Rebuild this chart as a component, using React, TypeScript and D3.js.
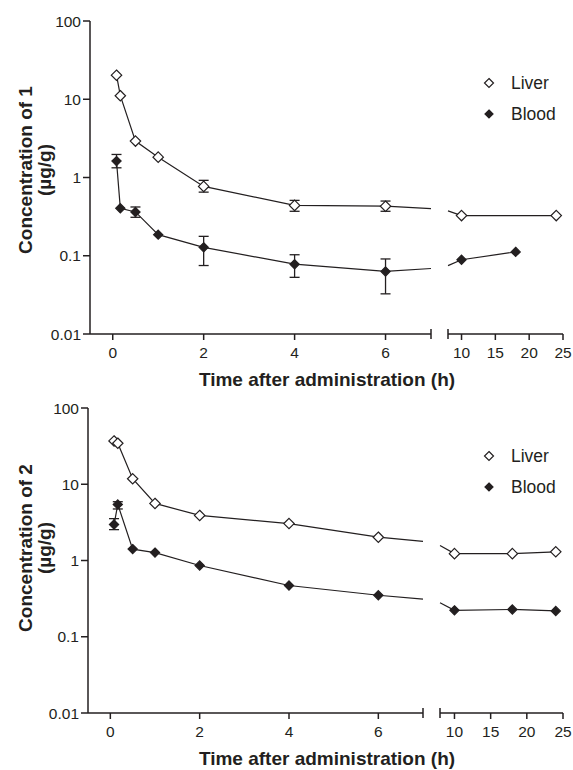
import React from 'react';
import * as d3 from 'd3';

// ==== data

const times = [0.083, 0.167, 0.5, 1, 2, 4, 6, 10, 18, 24];

const liver1 = [20.3, 11.1, 2.92, 1.82, 0.77, 0.44, 0.43, 0.326, null, 0.326];
const liver1Err = [null, null, null, null, [0.65, 0.92], [0.37, 0.51], [0.37, 0.5], null, null, null];
const blood1 = [1.62, 0.404, 0.363, 0.186, 0.128, 0.078, 0.063, 0.089, 0.112, null];
const blood1Err = [[1.33, 1.97], null, [0.31, 0.42], null, [0.075, 0.177], [0.053, 0.103], [0.0326, 0.091], null, null, null];

const liver2 = [37, 34.5, 11.8, 5.6, 3.9, 3.05, 2.02, 1.23, 1.23, 1.3];
const liver2Err = [null, null, null, null, null, null, null, null, null, null];
const blood2 = [2.96, 5.44, 1.41, 1.27, 0.86, 0.47, 0.35, 0.222, 0.228, 0.218];
const blood2Err = [[2.54, 3.54], [4.74, 5.9], null, null, null, null, null, null, null, null];

const yTicks = [100, 10, 1, 0.1, 0.01];
const xTicksLeft = [0, 2, 4, 6];
const xTicksRight = [10, 15, 20, 25];
const xBreak = [7, 8];
const xDomain = [-0.5, 25];

const ink = '#231f20';
const font = 'Liberation Sans, Arial, Helvetica, sans-serif';

// ====

type Pt = { t: number; v: number; gap?: boolean };

function seriesPoints(values: (number | null)[]): Pt[] {
    const pts: Pt[] = [];
    times.forEach((t, i) => {
        if (values[i] != null) pts.push({ t, v: values[i] as number });
    });
    // split the line at the axis break, interpolating in log space
    const out: Pt[] = [];
    pts.forEach((p, i) => {
        const prev = pts[i - 1];
        if (prev && prev.t < xBreak[0] && p.t > xBreak[1]) {
            const lerp = (t: number) => {
                const f = (t - prev.t) / (p.t - prev.t);
                return Math.pow(10, Math.log10(prev.v) + f * (Math.log10(p.v) - Math.log10(prev.v)));
            };
            out.push({ t: xBreak[0], v: lerp(xBreak[0]) });
            out.push({ t: NaN, v: NaN, gap: true });
            out.push({ t: xBreak[1], v: lerp(xBreak[1]) });
        }
        out.push(p);
    });
    return out;
}

function diamondPath(r: number) {
    return `M0,${-r}L${r},0L0,${r}L${-r},0Z`;
}

type PanelProps = {
    top: number;
    bottom: number;
    left: number;
    breakLeft: number;
    breakRight: number;
    right: number;
    label: string;
    titleY: number;
    liver: (number | null)[];
    liverErr: (number[] | null)[];
    blood: (number | null)[];
    bloodErr: (number[] | null)[];
    legendY: number;
};

function Panel(props: PanelProps) {
    const { top, bottom, left, breakLeft, breakRight, right, label, legendY, titleY } = props;

    const x = d3.scaleLinear()
        .domain([xDomain[0], xBreak[0], xBreak[1], xDomain[1]])
        .range([left, breakLeft, breakRight, right]);
    const y = d3.scaleLog().domain([0.01, 100]).range([bottom, top]);

    const line = d3.line<Pt>()
        .defined((d) => !d.gap)
        .x((d) => x(d.t))
        .y((d) => y(d.v));

    const series = [
        { values: props.liver, err: props.liverErr, fill: '#fff', r: 5.2 },
        { values: props.blood, err: props.bloodErr, fill: ink, r: 4.6 }
    ];

    return (
        <g>
            {/* y axis */}
            <line x1={left} x2={left} y1={top} y2={bottom} stroke={ink} strokeWidth={1.5} />
            {yTicks.map((t) => (
                <g key={t} transform={`translate(${left},${y(t)})`}>
                    <line x1={-7} x2={0} stroke={ink} strokeWidth={1.5} />
                    <text x={-9} dy="0.36em" textAnchor="end" fontSize={15.5} fill={ink}>{t}</text>
                </g>
            ))}

            {/* x axis, two segments */}
            <line x1={left} x2={breakLeft} y1={bottom} y2={bottom} stroke={ink} strokeWidth={1.5} />
            <line x1={breakRight} x2={right} y1={bottom} y2={bottom} stroke={ink} strokeWidth={1.5} />
            {[xBreak[0], xBreak[1]].map((t) => (
                <line key={`b${t}`} x1={x(t)} x2={x(t)} y1={bottom - 5} y2={bottom + 5} stroke={ink} strokeWidth={1.5} />
            ))}
            {xTicksLeft.concat(xTicksRight).map((t) => (
                <g key={t} transform={`translate(${x(t)},${bottom})`}>
                    <line y1={0} y2={6} stroke={ink} strokeWidth={1.5} />
                    <text y={24} textAnchor="middle" fontSize={15.5} fill={ink}>{t}</text>
                </g>
            ))}

            <text x={327} y={bottom + 52} textAnchor="middle" fontSize={19} fontWeight="bold" fill={ink}>
                Time after administration (h)
            </text>
            <g transform={`translate(32,${titleY}) rotate(-90)`}>
                <text textAnchor="middle" fontSize={19} fontWeight="bold" fill={ink}>{`Concentration of ${label}`}</text>
                <text y={18.5} textAnchor="middle" fontSize={19} fontWeight="bold" fill={ink}>(µg/g)</text>
            </g>

            {/* series */}
            {series.map((s, si) => (
                <g key={si}>
                    <path d={line(seriesPoints(s.values)) || ''} fill="none" stroke={ink} strokeWidth={1.2} />
                    {times.map((t, i) => s.err[i] ? (
                        <g key={`e${i}`} stroke={ink} strokeWidth={1.3}>
                            <line x1={x(t)} x2={x(t)} y1={y(s.err[i]![0])} y2={y(s.err[i]![1])} />
                            <line x1={x(t) - 5} x2={x(t) + 5} y1={y(s.err[i]![0])} y2={y(s.err[i]![0])} />
                            <line x1={x(t) - 5} x2={x(t) + 5} y1={y(s.err[i]![1])} y2={y(s.err[i]![1])} />
                        </g>
                    ) : null)}
                    {times.map((t, i) => s.values[i] != null ? (
                        <path key={`m${i}`} d={diamondPath(s.r)}
                            transform={`translate(${x(t)},${y(s.values[i] as number)})`}
                            fill={s.fill} stroke={ink} strokeWidth={1.2} />
                    ) : null)}
                </g>
            ))}

            {/* legend */}
            <path d={diamondPath(4.5)} transform={`translate(489,${legendY})`} fill="#fff" stroke={ink} strokeWidth={1.2} />
            <text x={511} y={legendY} dy="0.36em" fontSize={17.5} fill={ink}>Liver</text>
            <path d={diamondPath(4)} transform={`translate(489,${legendY + 31})`} fill={ink} stroke={ink} strokeWidth={1.2} />
            <text x={511} y={legendY + 31} dy="0.36em" fontSize={17.5} fill={ink}>Blood</text>
        </g>
    );
}

// ====

export default function App() {
    return (
        <svg width={573} height={770} style={{ position: 'absolute', left: 0, top: 0, background: '#fff' }}
            fontFamily={font}>
            <Panel top={21} bottom={334} left={90} breakLeft={431} breakRight={448} right={563} titleY={170}
                label="1" liver={liver1} liverErr={liver1Err} blood={blood1} bloodErr={blood1Err} legendY={83} />
            <Panel top={408} bottom={713} left={88} breakLeft={423} breakRight={440} right={563} titleY={548}
                label="2" liver={liver2} liverErr={liver2Err} blood={blood2} bloodErr={blood2Err} legendY={456} />
        </svg>
    );
}
